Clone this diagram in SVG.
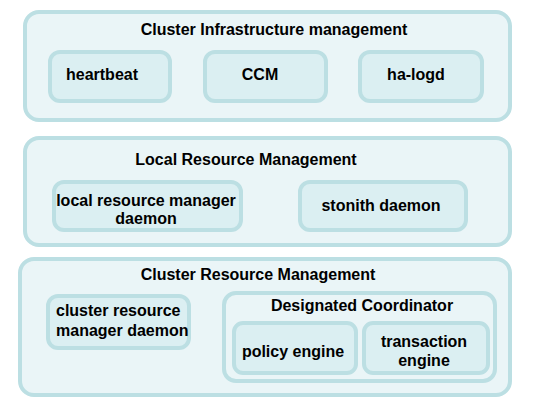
<svg xmlns="http://www.w3.org/2000/svg" width="551" height="413" viewBox="0 0 551 413">
<style>
.outer{fill:#eaf5f7;stroke:#bcdfe3;stroke-width:4}
.inner{fill:#dbeff2;stroke:#bcdfe3;stroke-width:4}
text{font-family:"Liberation Sans",Arial,sans-serif;font-weight:bold;font-size:16px;fill:#000}
.c{text-anchor:middle}
</style>
<rect width="551" height="413" fill="#fff"/>
<g id="cluster-infrastructure">
<rect class="outer" x="25" y="12" width="485" height="108" rx="14"/>
<text class="c" x="274" y="35">Cluster Infrastructure management</text>
</g>
<g id="heartbeat">
<rect class="inner" x="50" y="52" width="120" height="49" rx="10"/>
<text class="c" x="102" y="80">heartbeat</text>
</g>
<g id="ccm">
<rect class="inner" x="205" y="52" width="121" height="49" rx="10"/>
<text class="c" x="260" y="80">CCM</text>
</g>
<g id="ha-logd">
<rect class="inner" x="360" y="52" width="122" height="49" rx="10"/>
<text class="c" x="416" y="80">ha-logd</text>
</g>
<g id="local-resource-management">
<rect class="outer" x="25" y="138" width="485" height="107" rx="14"/>
<text class="c" x="246" y="165">Local Resource Management</text>
</g>
<g id="lrmd">
<rect class="inner" x="54" y="182" width="187" height="48" rx="10"/>
<text class="c" x="146" y="206">local resource manager</text>
<text class="c" x="146" y="224">daemon</text>
</g>
<g id="stonithd">
<rect class="inner" x="300" y="182" width="166" height="48" rx="10"/>
<text class="c" x="381" y="211">stonith daemon</text>
</g>
<g id="cluster-resource-management">
<rect class="outer" x="20" y="259" width="490" height="136" rx="14"/>
<text class="c" x="258" y="280">Cluster Resource Management</text>
</g>
<g id="crmd">
<rect class="inner" x="48" y="296" width="141" height="52" rx="10"/>
<text x="56" y="316">cluster resource</text>
<text x="56" y="336">manager daemon</text>
</g>
<g id="designated-coordinator">
<rect class="outer" x="224" y="293" width="271" height="88" rx="12"/>
<text class="c" x="362" y="311">Designated Coordinator</text>
</g>
<g id="policy-engine">
<rect class="inner" x="234" y="323" width="122" height="50" rx="9"/>
<text class="c" x="293" y="357">policy engine</text>
</g>
<g id="transaction-engine">
<rect class="inner" x="364" y="323" width="124" height="50" rx="9"/>
<text class="c" x="424" y="347">transaction</text>
<text class="c" x="424" y="366">engine</text>
</g>
<g id="connectors"/>
</svg>
